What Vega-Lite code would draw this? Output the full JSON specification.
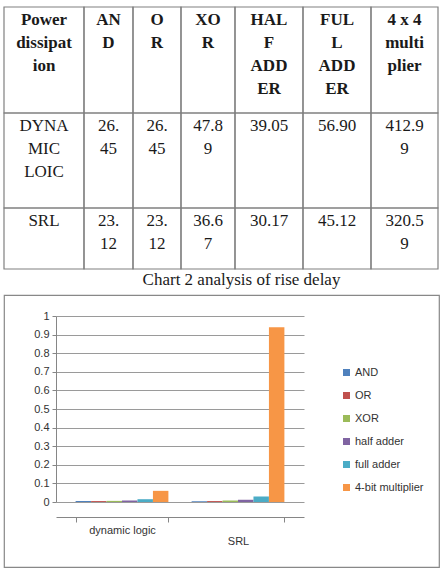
{
  "$schema": "https://vega.github.io/schema/vega-lite/v6.json",
  "background": "white",
  "padding": {"left": 3, "top": 0, "right": 0, "bottom": 0},
  "spacing": 0,
  "config": {"view": {"stroke": null}},
  "resolve": {"legend": {"color": "independent"}},
  "datasets": {
    "cells": [
      {"row": 0, "col": 0, "text": "Power\ndissipat\nion"},
      {"row": 0, "col": 1, "text": "AN\nD"},
      {"row": 0, "col": 2, "text": "O\nR"},
      {"row": 0, "col": 3, "text": "XO\nR"},
      {"row": 0, "col": 4, "text": "HAL\nF\nADD\nER"},
      {"row": 0, "col": 5, "text": "FUL\nL\nADD\nER"},
      {"row": 0, "col": 6, "text": "4 x 4\nmulti\nplier"},
      {"row": 1, "col": 0, "text": "DYNA\nMIC\nLOIC"},
      {"row": 1, "col": 1, "text": "26.\n45"},
      {"row": 1, "col": 2, "text": "26.\n45"},
      {"row": 1, "col": 3, "text": "47.8\n9"},
      {"row": 1, "col": 4, "text": "39.05"},
      {"row": 1, "col": 5, "text": "56.90"},
      {"row": 1, "col": 6, "text": "412.9\n9"},
      {"row": 2, "col": 0, "text": "SRL"},
      {"row": 2, "col": 1, "text": "23.\n12"},
      {"row": 2, "col": 2, "text": "23.\n12"},
      {"row": 2, "col": 3, "text": "36.6\n7"},
      {"row": 2, "col": 4, "text": "30.17"},
      {"row": 2, "col": 5, "text": "45.12"},
      {"row": 2, "col": 6, "text": "320.5\n9"}
    ],
    "delay": [
      {"group": "dynamic logic", "series": "AND", "value": 0.005},
      {"group": "dynamic logic", "series": "OR", "value": 0.005},
      {"group": "dynamic logic", "series": "XOR", "value": 0.006},
      {"group": "dynamic logic", "series": "half adder", "value": 0.008},
      {"group": "dynamic logic", "series": "full adder", "value": 0.015},
      {"group": "dynamic logic", "series": "4-bit multiplier", "value": 0.06},
      {"group": "SRL", "series": "AND", "value": 0.004},
      {"group": "SRL", "series": "OR", "value": 0.005},
      {"group": "SRL", "series": "XOR", "value": 0.008},
      {"group": "SRL", "series": "half adder", "value": 0.012},
      {"group": "SRL", "series": "full adder", "value": 0.03},
      {"group": "SRL", "series": "4-bit multiplier", "value": 0.94}
    ]
  },
  "vconcat": [
    {
      "width": 435,
      "height": 270,
      "data": {"name": "cells"},
      "layer": [
        {
          "transform": [
            {"calculate": "datum.col - 0.5", "as": "x0"},
            {"calculate": "datum.col + 0.5", "as": "x1"},
            {"calculate": "datum.row + 1", "as": "y1"}
          ],
          "mark": {"type": "rect", "fill": null, "stroke": "#808080", "strokeWidth": 1.2},
          "encoding": {
            "x": {"field": "x0", "type": "quantitative", "axis": null,
                  "scale": {"domain": [-0.5, 0.5, 1.5, 2.5, 3.5, 4.5, 5.5, 6.5], "range": [0, 80, 129, 177, 231, 299, 367, 434], "zero": false, "nice": false}},
            "x2": {"field": "x1"},
            "y": {"field": "row", "type": "quantitative", "axis": null,
                  "scale": {"domain": [0, 1, 2, 3], "range": [7, 113, 208, 269], "zero": false, "nice": false}},
            "y2": {"field": "y1"}
          }
        },
        {
          "transform": [{"filter": "datum.row == 0"}],
          "mark": {"type": "text", "align": "center", "baseline": "top", "dy": 5, "lineBreak": "\n", "lineHeight": 23, "font": "Liberation Serif", "fontSize": 17, "fontWeight": "bold", "color": "#1a1a1a"},
          "encoding": {
            "x": {"field": "col", "type": "quantitative"},
            "y": {"field": "row", "type": "quantitative"},
            "text": {"field": "text"}
          }
        },
        {
          "transform": [{"filter": "datum.row > 0"}],
          "mark": {"type": "text", "align": "center", "baseline": "top", "dy": 5, "lineBreak": "\n", "lineHeight": 23, "font": "Liberation Serif", "fontSize": 17, "fontWeight": "normal", "color": "#1a1a1a"},
          "encoding": {
            "x": {"field": "col", "type": "quantitative"},
            "y": {"field": "row", "type": "quantitative"},
            "text": {"field": "text"}
          }
        }
      ]
    },
    {
      "width": 435,
      "height": 272,
      "view": {"stroke": "#888888", "strokeWidth": 1.2},
      "title": {"text": "Chart 2 analysis of rise delay", "font": "Liberation Serif", "fontSize": 17, "fontWeight": "normal", "color": "#1a1a1a", "anchor": "middle", "dx": 20, "offset": 6},
      "data": {"name": "delay"},
      "mark": {"type": "bar"},
      "encoding": {
        "x": {
          "field": "group", "type": "nominal", "sort": ["dynamic logic", "SRL"],
          "scale": {"range": [52, 300], "paddingInner": 0.2, "paddingOuter": 0.169},
          "axis": {
            "orient": "bottom", "offset": -50, "title": null, "labelAngle": 0,
            "domainColor": "#868686", "ticks": true, "tickBand": "extent", "tickSize": 5, "tickColor": "#868686",
            "labelFont": "Liberation Sans", "labelFontSize": 11, "labelColor": "#333333",
            "labelPadding": {"condition": {"test": "datum.value === 'SRL'", "value": 13}, "value": 2}
          }
        },
        "xOffset": {
          "field": "series", "type": "nominal",
          "sort": ["AND", "OR", "XOR", "half adder", "full adder", "4-bit multiplier"],
          "scale": {"paddingInner": 0, "paddingOuter": 0}
        },
        "y": {
          "field": "value", "type": "quantitative",
          "scale": {"domain": [0, 1], "range": [207, 21], "nice": false, "zero": true},
          "axis": {
            "orient": "left", "offset": -52, "title": null,
            "values": [0, 0.1, 0.2, 0.3, 0.4, 0.5, 0.6, 0.7, 0.8, 0.9, 1], "format": "~g",
            "domain": true, "domainColor": "#868686", "ticks": true, "tickSize": 4, "tickColor": "#868686",
            "grid": true, "gridColor": "#9a9a9a",
            "labelPadding": 3, "labelFont": "Liberation Sans", "labelFontSize": 11, "labelColor": "#333333"
          }
        },
        "color": {
          "field": "series", "type": "nominal",
          "sort": ["AND", "OR", "XOR", "half adder", "full adder", "4-bit multiplier"],
          "scale": {
            "domain": ["AND", "OR", "XOR", "half adder", "full adder", "4-bit multiplier"],
            "range": ["#4F81BD", "#C0504D", "#9BBB59", "#8064A2", "#4BACC6", "#F79646"]
          },
          "legend": {
            "orient": "none", "legendX": 337, "legendY": 72, "title": null,
            "symbolType": "square", "symbolSize": 49, "symbolStrokeWidth": 0,
            "labelFont": "Liberation Sans", "labelFontSize": 11, "labelColor": "#333333",
            "rowPadding": 11, "labelOffset": 3
          }
        }
      }
    }
  ]
}
